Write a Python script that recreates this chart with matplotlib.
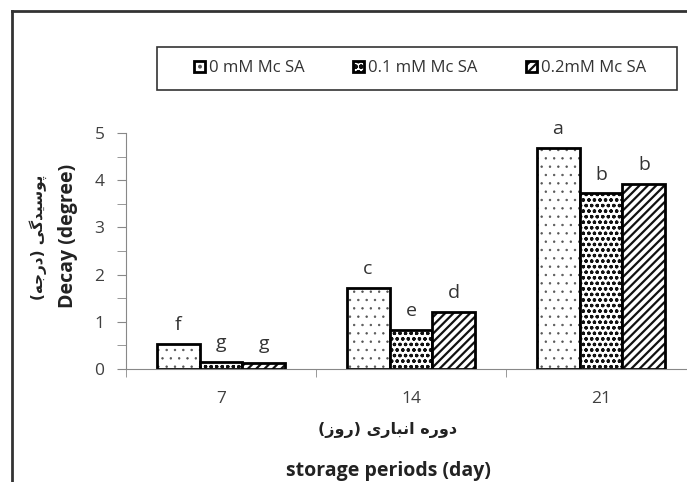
import matplotlib
matplotlib.use("Agg")
import matplotlib.pyplot as plt
import numpy as np
from matplotlib.patches import Rectangle
from matplotlib.lines import Line2D
from matplotlib.legend_handler import HandlerTuple

# data
periods = ["7", "14", "21"]
series_names = ["0 mM Mc SA", "0.1 mM Mc SA", "0.2mM Mc SA"]
decay_0 = [0.54, 1.72, 4.69]
decay_01 = [0.15, 0.83, 3.72]
decay_02 = [0.13, 1.21, 3.92]
letters_0 = ["f", "c", "a"]
letters_01 = ["g", "e", "b"]
letters_02 = ["g", "d", "b"]

xlabel_fa = "دوره انباری (روز)"
ylabel_fa = "پوسیدگی (درجه)"
xlabel_en = "storage periods (day)"
ylabel_en = "Decay (degree)"

# minimal Persian shaping (isolated, final, initial, medial)
FORMS = {
    'ا': ('\uFE8D', '\uFE8E', None, None),
    'ب': ('\uFE8F', '\uFE90', '\uFE91', '\uFE92'),
    'پ': ('\uFB56', '\uFB57', '\uFB58', '\uFB59'),
    'ج': ('\uFE9D', '\uFE9E', '\uFE9F', '\uFEA0'),
    'د': ('\uFEA9', '\uFEAA', None, None),
    'ر': ('\uFEAD', '\uFEAE', None, None),
    'ز': ('\uFEAF', '\uFEB0', None, None),
    'س': ('\uFEB1', '\uFEB2', '\uFEB3', '\uFEB4'),
    'ن': ('\uFEE5', '\uFEE6', '\uFEE7', '\uFEE8'),
    'ه': ('\uFEE9', '\uFEEA', '\uFEEB', '\uFEEC'),
    'و': ('\uFEED', '\uFEEE', None, None),
    'ی': ('\uFBFC', '\uFBFD', '\uFBFE', '\uFBFF'),
    'گ': ('\uFB92', '\uFB93', '\uFB94', '\uFB95'),
}
MIRROR = {'(': ')', ')': '('}


def shape_token(tok):
    out = []
    for i, c in enumerate(tok):
        if c not in FORMS:
            out.append(c)
            continue
        prev = tok[i - 1] if i > 0 else None
        nxt = tok[i + 1] if i + 1 < len(tok) else None
        iso, fin, ini, med = FORMS[c]
        jp = prev in FORMS and FORMS[prev][2] is not None
        jn = nxt in FORMS and ini is not None
        if jp and jn:
            out.append(med)
        elif jp:
            out.append(fin)
        elif jn:
            out.append(ini)
        else:
            out.append(iso)
    return ''.join(MIRROR.get(c, c) for c in reversed(out))


def fa(text):
    # shape each word, then lay the words out right-to-left
    toks = [shape_token(t) for t in text.split()]
    return ' '.join(toks[::-1])


plt.rcParams['font.family'] = ['Open Sans', 'DejaVu Sans']
plt.rcParams['hatch.linewidth'] = 1.6

fig = plt.figure(figsize=(6.87, 4.82), dpi=100)
ax = fig.add_axes([126 / 687, 113 / 482, 570 / 687, 236 / 482])

x = np.arange(len(periods))
w = 0.226
series = [decay_0, decay_01, decay_02]
hatches = ['..', 'ooo', '////']
hatch_cols = ['#555555', '#111111', '#111111']
hatch_lws = [0.5, 0.9, 1.6]
letters = [letters_0, letters_01, letters_02]
handles = []
for k, vals in enumerate(series):
    pos = x + (k - 1) * w
    fill = ax.bar(pos, vals, w, color='white', edgecolor=hatch_cols[k], linewidth=0, hatch=hatches[k])
    for p in fill:
        if hasattr(p, 'set_hatch_linewidth'):
            p.set_hatch_linewidth(hatch_lws[k])
    outline = ax.bar(pos, vals, w, fill=False, edgecolor='black', linewidth=2)
    handles.append((fill, outline))
    for rect, lab in zip(outline, letters[k]):
        ax.annotate(lab, (rect.get_x() + rect.get_width() / 2, rect.get_height()),
                    xytext=(0, 7), textcoords='offset points', ha='center', va='bottom',
                    fontsize=14, color='#333333')

ax.set_xlim(-0.5, 2.5)
ax.set_ylim(0, 5)
ax.spines['top'].set_visible(False)
ax.spines['right'].set_visible(False)
ax.spines['left'].set_color('#888888')
ax.spines['bottom'].set_color('#888888')

ax.set_yticks(np.arange(0, 6, 1))
ax.set_yticks(np.arange(0.5, 5, 1), minor=True)
ax.tick_params(axis='y', which='both', length=6.5, color='#888888', labelsize=12.5,
               labelcolor='#404040', pad=9)
ax.set_xticks(x, periods)
ax.set_xticks([-0.5, 0.5, 1.5, 2.5], minor=True)
ax.tick_params(axis='x', which='major', length=0, labelsize=12.5, labelcolor='#404040', pad=16)
ax.tick_params(axis='x', which='minor', length=6, color='#888888')

# axis titles
fig.text(388 / 687, 1 - 430 / 482, fa(xlabel_fa), ha='center', va='center',
         fontsize=11.5, fontweight='bold', family='DejaVu Sans', color='#222222')
fig.text(388 / 687, 1 - 471 / 482, xlabel_en, ha='center', va='center',
         fontsize=14, fontweight='bold', color='#222222')
fig.text(68 / 687, 1 - 236 / 482, ylabel_en, ha='center', va='center', rotation=90,
         fontsize=14, fontweight='bold', color='#222222')
fig.text(38 / 687, 1 - 237 / 482, fa(ylabel_fa), ha='center', va='center', rotation=90,
         fontsize=11, fontweight='bold', family='DejaVu Sans', color='#222222')

# legend box drawn separately so its size matches the reference
fig.add_artist(Rectangle((157 / 687, 1 - 90 / 482), 520 / 687, 43 / 482, transform=fig.transFigure,
                         fill=False, edgecolor='#333333', linewidth=1.2))
leg = fig.legend(handles=handles, labels=series_names, loc='center', ncol=3,
                 handler_map={tuple: HandlerTuple(ndivide=1, pad=0)},
                 bbox_to_anchor=(420 / 687, 1 - 68 / 482), bbox_transform=fig.transFigure,
                 fontsize=12, frameon=False, handlelength=0.65, handleheight=0.65,
                 handletextpad=0.25, columnspacing=2.9, borderpad=0, borderaxespad=0)
for t in leg.get_texts():
    t.set_color('#333333')

# outer chart frame (right and bottom edges are cropped in the original)
fig.add_artist(Line2D([12 / 687, 12 / 687], [0, 1 - 11 / 482], transform=fig.transFigure,
                      color='#333333', linewidth=2))
fig.add_artist(Line2D([12 / 687, 1], [1 - 11 / 482, 1 - 11 / 482], transform=fig.transFigure,
                      color='#333333', linewidth=2))

fig.savefig('out.png', dpi=100)
